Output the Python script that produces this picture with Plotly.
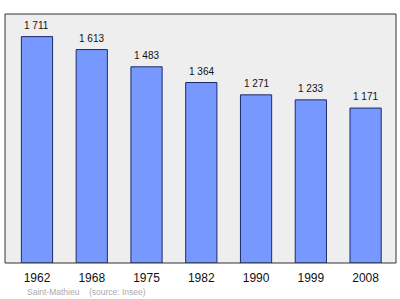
import plotly.graph_objects as go

years = ["1962", "1968", "1975", "1982", "1990", "1999", "2008"]
population = [1711, 1613, 1483, 1364, 1271, 1233, 1171]
value_labels = ["1 711", "1 613", "1 483", "1 364", "1 271", "1 233", "1 171"]

xs = list(range(len(years)))

fig = go.Figure()
fig.add_trace(go.Bar(
    x=xs, y=population, width=0.57,
    marker=dict(color="#7799ff", line=dict(color="#1c2a6b", width=1)),
    hoverinfo="skip",
))

for x, y, t in zip(xs, population, value_labels):
    fig.add_annotation(x=x, y=y, text=t, showarrow=False, yanchor="bottom", yshift=4,
                       font=dict(family="Liberation Sans, Arial, sans-serif", size=10, color="#111111"))

fig.add_annotation(xref="paper", yref="paper", x=0.05, y=-0.115, xanchor="left", yanchor="middle",
                   text="Saint-Mathieu    (source: Insee)", showarrow=False,
                   font=dict(family="Liberation Sans, Arial, sans-serif", size=8.5, color="#aaaaaa"))

fig.update_layout(
    width=400, height=299,
    margin=dict(l=4.5, r=4.3, t=14, b=36),
    paper_bgcolor="white", plot_bgcolor="#eeeeee",
    showlegend=False,
    xaxis=dict(range=[-0.584, 6.555], tickmode="array", tickvals=xs, ticktext=years,
               showgrid=False, zeroline=False, ticks="", showline=False, ticklabelstandoff=6,
               tickfont=dict(family="Liberation Sans, Arial, sans-serif", size=12, color="#111111")),
    yaxis=dict(range=[0, 1882], showgrid=False, zeroline=False, showticklabels=False, showline=False),
)
fig.add_shape(type="rect", xref="paper", yref="paper", x0=0, y0=0, x1=1, y1=1,
              line=dict(color="#333333", width=1), fillcolor="rgba(0,0,0,0)", layer="above")

fig.write_html("out.html")
